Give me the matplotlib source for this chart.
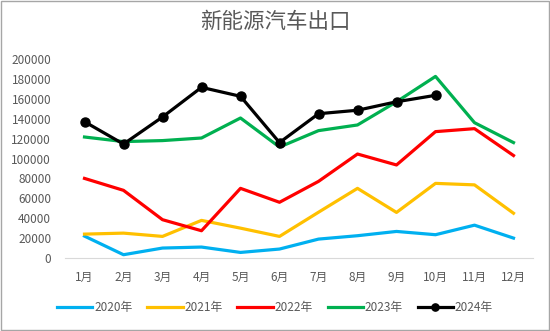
import matplotlib.pyplot as plt
from matplotlib.patches import Rectangle

plt.rcParams['font.family'] = ['Noto Sans CJK SC', 'DejaVu Sans']

months = ['1月', '2月', '3月', '4月', '5月', '6月', '7月', '8月', '9月', '10月', '11月', '12月']
y2020 = [22000, 3300, 10000, 11000, 5600, 9000, 19000, 22400, 26700, 23400, 33000, 20000]
y2021 = [24000, 25000, 21700, 37800, 30000, 21700, 46000, 70000, 45800, 75000, 73500, 45000]
y2022 = [80000, 68000, 38500, 27400, 70000, 56000, 77000, 104500, 93500, 127000, 130000, 103000]
y2023 = [121600, 117000, 118000, 120600, 140700, 111500, 128000, 133700, 157000, 182500, 136000, 116000]
y2024 = [137000, 114500, 141700, 171500, 162500, 116000, 145000, 148500, 157000, 163500]

fig = plt.figure(figsize=(5.5, 3.31), dpi=100)
ax = fig.add_axes([65/550, 1 - 258/331, 468/550, 199/331])

x = range(len(months))
ax.plot(x, y2020, color='#00B0F0', lw=2.3, label='2020年')
ax.plot(x, y2021, color='#FFC000', lw=2.3, label='2021年')
ax.plot(x, y2022, color='#FF0000', lw=2.3, label='2022年')
ax.plot(x, y2023, color='#00B050', lw=2.3, label='2023年')
ax.plot(range(len(y2024)), y2024, color='black', lw=2.3, marker='o', ms=6.5, label='2024年')

ax.set_xlim(-0.5, 11.5)
ax.set_ylim(0, 200000)
ax.set_yticks(range(0, 200001, 20000))
ax.set_xticks(list(x))
ax.set_xticklabels(months)
ax.tick_params(axis='both', length=0, labelsize=8.5, colors='#595959')
ax.tick_params(axis='y', pad=10)
ax.tick_params(axis='x', pad=9)
for s in ['top', 'right', 'left']:
    ax.spines[s].set_visible(False)
ax.spines['bottom'].set_color('#D9D9D9')

fig.text(0.5, 1 - 22/331, '新能源汽车出口', ha='center', va='center', fontsize=15.5, color='#595959')

fig.legend(loc='center', bbox_to_anchor=(0.5, 1 - 308/331), ncol=5, frameon=False,
           fontsize=8.5, labelcolor='#595959', handlelength=3.0, handletextpad=0.15,
           columnspacing=1.25, markerscale=0.8)

fig.patches.append(Rectangle((0.002, 0.003), 0.996, 0.994, transform=fig.transFigure,
                             fill=False, edgecolor='#A6A6A6', lw=1))

fig.savefig('out.png', dpi=100)
